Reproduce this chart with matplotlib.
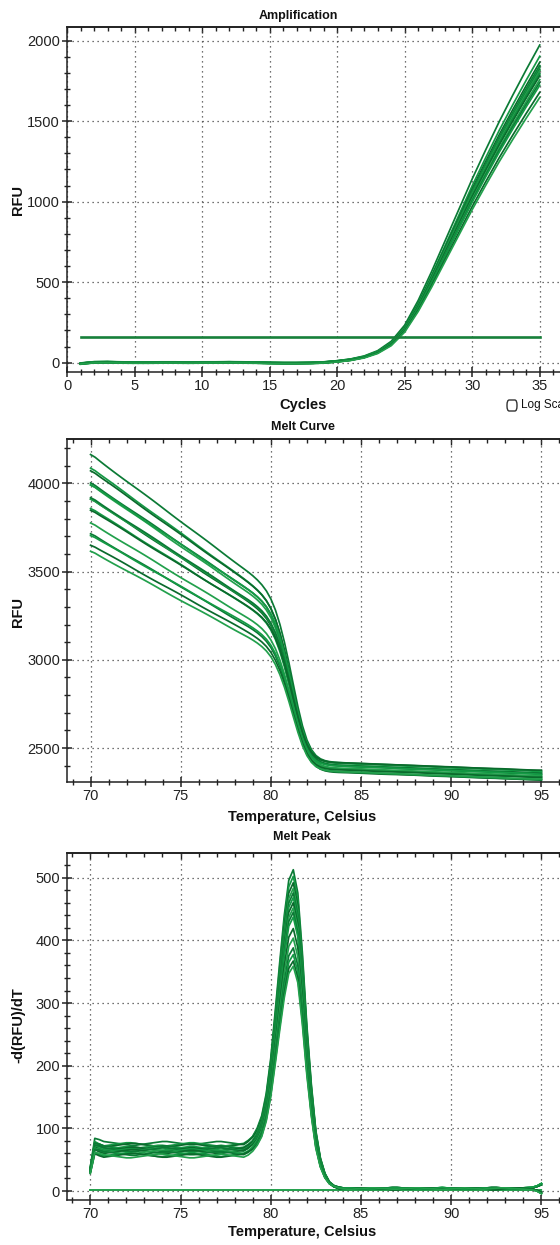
import numpy as np
import matplotlib.pyplot as plt
from matplotlib.ticker import MultipleLocator
from matplotlib.patches import FancyBboxPatch

plt.rcParams['font.family'] = ['Liberation Sans', 'DejaVu Sans']

# ---- amplification data ----
cycles = np.arange(1, 36)
amp_base = [-6, 2, 3, 1, 0, 0, 1, 1, 0, 1, 1, 2, 1, 0, -2, -3, -3, -2, 1, 8,
            18, 35, 65, 118, 210, 350, 515, 690, 865, 1040, 1205, 1365, 1515, 1660, 1800]
amp_final = [1970, 1905, 1865, 1850, 1840, 1830, 1820, 1810, 1800, 1790,
             1780, 1760, 1740, 1720, 1680, 1650]
amp_offset = [3, -2, 1, -4, 2, 0, -1, 4, -3, 1, 2, -2, 0, 3, -1, -3]
threshold = 162

# ---- melt data ----
temps = np.arange(70, 95.001, 0.25)
# pre-melt slope level and peak height per well
melt_b = [76, 74, 73, 70, 69, 68, 67, 66, 66, 64, 63, 62, 60, 58, 57, 56]
peak_h = [490, 480, 470, 462, 455, 448, 440, 432, 425, 418, 400, 385, 370, 360, 350, 342]
melt_end = [2370, 2335, 2360, 2325, 2350, 2365, 2320, 2345, 2355, 2330,
            2375, 2340, 2318, 2350, 2335, 2325]
post_level = 4
ntc_level = 2

pre_shape = np.concatenate([[0.5, 1.08, 1.04], np.ones(36),
                            [0.95, 0.85, 0.75, 0.62, 0.5, 0.4, 0.3, 0.2, 0.12, 0.06, 0.02],
                            np.zeros(51)])
peak_shape = np.concatenate([np.zeros(35),
                             [0.01, 0.025, 0.05, 0.09, 0.17, 0.30, 0.47, 0.65, 0.82, 0.95, 1.0,
                              0.94, 0.76, 0.53, 0.34, 0.19, 0.10, 0.05, 0.022, 0.009, 0.003],
                             np.zeros(45)])
post_shape = np.concatenate([np.zeros(48), [0.2, 0.5, 0.8], np.ones(50)])

wig_a = [0, 2, 3, 3, 2, 1, 0, -1, -2,
         -3, -3, -2, -1, 0, 1, 2, 3,
         3, 2, 1, 0, -1, -2, -2, -1,
         0, 1, 2, 3, 3, 2, 1, 0,
         -1, -2, -2, -1, 0, 0, 0, 0,
         0, 0, 0, 0, 0, 0, 0, 0,
         0, 0, 0, 0, 0, 0.5, 1, 1,
         1, 0.5, 0, -0.5, -1, -1, -0.5, 0,
         0.5, 1, 1.5, 1.5, 1, 0.5, 0, -0.5,
         -1, -1, -0.5, 0, 0.5, 1, 1, 0.5,
         0, -0.5, -1, -1, -0.5, 0, 0.5, 1,
         1.5, 1.5, 1, 0, -0.5, -1, -1, -0.5,
         0, 1, 3, 6]
wig_b = [0, -1, -2, -2, -1, 0, 1, 2, 3,
         3, 2, 1, 0, -1, -2, -3, -3,
         -2, -1, 0, 1, 2, 3, 3, 2,
         1, 0, -1, -2, -3, -2, -1, 0,
         1, 2, 2, 1, 0, 0, 0, 0,
         0, 0, 0, 0, 0, 0, 0, 0,
         0, 0, 0, 0, 0, -0.5, 0, 0.5,
         1, 1, 0.5, 0, -0.5, -1, -1, -0.5,
         0, 0.5, 1, 1, 0.5, 0, -0.5, -1,
         -1, -0.5, 0, 0.5, 1, 1.5, 1, 0.5,
         0, -0.5, -1, -0.5, 0, 0.5, 1, 0.5,
         0, -0.5, -1, -1, -0.5, 0, 0.5, 1,
         1.5, 2, 4, 8]
wiggles = [np.array(wig_a), np.array(wig_b), -np.array(wig_a), -np.array(wig_b)]

greens = ['#0b7a35', '#149a45', '#0a6a2c', '#22a04c']
line_w = 1.25

# derivative curves, and melt curves integrated back from 95 C
dT = temps[1] - temps[0]
peaks, melts = [], []
for i in range(len(melt_b)):
    d = melt_b[i] * pre_shape + peak_h[i] * peak_shape + post_level * post_shape + wiggles[i % 4]
    seg = 0.5 * (d[1:] + d[:-1]) * dT
    cum = np.concatenate([np.cumsum(seg[::-1])[::-1], [0]])
    peaks.append(d)
    melts.append(melt_end[i] + cum)


def style(ax, xmaj, xmin, ymaj, ymin):
    ax.spines['right'].set_visible(False)
    for s in ['left', 'top', 'bottom']:
        ax.spines[s].set_linewidth(1.1)
        ax.spines[s].set_color('#222222')
    ax.xaxis.set_major_locator(MultipleLocator(xmaj))
    ax.xaxis.set_minor_locator(MultipleLocator(xmin))
    ax.yaxis.set_major_locator(MultipleLocator(ymaj))
    ax.yaxis.set_minor_locator(MultipleLocator(ymin))
    ax.tick_params(axis='both', which='major', direction='inout', length=7, width=1.1,
                   labelsize=10.5, colors='#222222', pad=1.5)
    ax.tick_params(axis='both', which='minor', direction='inout', length=4, width=1.0,
                   colors='#222222')
    ax.grid(True, which='major', linestyle=(0, (1, 3)), color='#444444', linewidth=0.9)
    ax.set_axisbelow(True)
    top = ax.secondary_xaxis('top')
    top.xaxis.set_major_locator(MultipleLocator(xmaj))
    top.xaxis.set_minor_locator(MultipleLocator(xmin))
    top.tick_params(which='major', direction='in', length=4, width=1.0, labeltop=False,
                    colors='#222222')
    top.tick_params(which='minor', direction='in', length=3, width=1.0, colors='#222222')
    top.spines['top'].set_linewidth(1.1)


W, H = 560, 1245
fig = plt.figure(figsize=(W / 100, H / 100), dpi=100)

# ---- Amplification ----
ax1 = fig.add_axes([67 / W, 1 - 372.3 / H, 1 - 67 / W, 345 / H])
for i, f in enumerate(amp_final):
    y = np.array(amp_base) * f / amp_base[-1] + amp_offset[i]
    ax1.plot(cycles, y, color=greens[i % 4], lw=line_w)
ax1.plot([1, 35], [threshold, threshold], color='#17803a', lw=1.9)
ax1.set_xlim(0, 36.5)
ax1.set_ylim(-60, 2083)
style(ax1, 5, 1, 500, 100)

# ---- Melt Curve ----
ax2 = fig.add_axes([67.3 / W, 1 - 782.3 / H, 1 - 67.3 / W, 343.3 / H])
for i, m in enumerate(melts):
    ax2.plot(temps, m, color=greens[i % 4], lw=line_w)
ax2.set_xlim(68.71, 96.03)
ax2.set_ylim(2306, 4251)
style(ax2, 5, 1, 500, 100)

# ---- Melt Peak ----
ax3 = fig.add_axes([67 / W, 1 - 1199.6 / H, 1 - 67 / W, 346.3 / H])
ax3.plot(temps, np.full(len(temps), ntc_level), color='#22a04c', lw=1.4)
for i, p in enumerate(peaks):
    ax3.plot(temps, p, color=greens[i % 4], lw=line_w)
ax3.set_xlim(68.71, 96.03)
ax3.set_ylim(-13.7, 539)
style(ax3, 5, 1, 100, 20)

# ---- titles and labels ----
tkw = dict(ha='center', va='center', fontweight='bold', color='#111111')
fig.text(298 / W, 1 - 16 / H, 'Amplification', fontsize=9, **tkw)
fig.text(303 / W, 1 - 405 / H, 'Cycles', fontsize=10.5, **tkw)
fig.text(18 / W, 1 - 200 / H, 'RFU', fontsize=10.5, rotation=90, **tkw)
fig.text(303 / W, 1 - 427 / H, 'Melt Curve', fontsize=9, **tkw)
fig.text(302 / W, 1 - 817 / H, 'Temperature, Celsius', fontsize=10.5, **tkw)
fig.text(18 / W, 1 - 612 / H, 'RFU', fontsize=10.5, rotation=90, **tkw)
fig.text(302 / W, 1 - 837 / H, 'Melt Peak', fontsize=9, **tkw)
fig.text(302 / W, 1 - 1232 / H, 'Temperature, Celsius', fontsize=10.5, **tkw)
fig.text(18 / W, 1 - 1025 / H, '-d(RFU)/dT', fontsize=10.5, rotation=90, **tkw)

# log scale checkbox (cut by the right edge, as in the source screenshot)
box = FancyBboxPatch((507 / W, 1 - 411 / H), 10 / W, 11 / H,
                     boxstyle='round,pad=0,rounding_size=0.004',
                     transform=fig.transFigure, facecolor='white',
                     edgecolor='#333333', linewidth=1.0)
fig.patches.append(box)
fig.text(521 / W, 1 - 405 / H, 'Log Scale', fontsize=8.5, ha='left', va='center',
         color='#111111')

fig.savefig('out.png', dpi=100)
